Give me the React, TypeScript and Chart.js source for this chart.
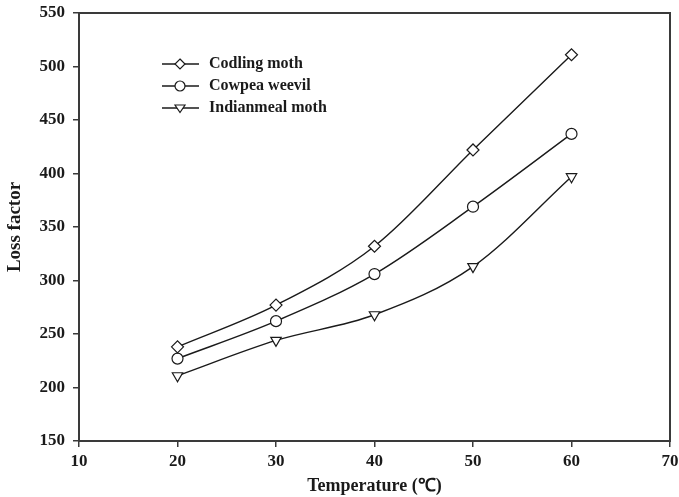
import React, { useEffect, useRef } from "react";
import { Chart, registerables } from "chart.js";

Chart.register(...registerables);

const temperatures = [20, 30, 40, 50, 60];
const codlingMoth = [238, 277, 332, 422, 511];
const cowpeaWeevil = [227, 262, 306, 369, 437];
const indianmealMoth = [211, 244, 268, 313, 397];
const seriesLabels = ["Codling moth", "Cowpea weevil", "Indianmeal moth"];
const xTitle = "Temperature (\u2103)";
const yTitle = "Loss factor";

const INK = "#1a1a1a";
const AXIS = "#3a3a3a";
const FONT = "'Liberation Serif', 'Times New Roman', serif";

function drawMarker(ctx: CanvasRenderingContext2D, style: string, x: number, y: number, r: number) {
  ctx.beginPath();
  if (style === "rectRot") {
    ctx.moveTo(x, y - r);
    ctx.lineTo(x + r, y);
    ctx.lineTo(x, y + r);
    ctx.lineTo(x - r, y);
    ctx.closePath();
  } else if (style === "circle") {
    ctx.arc(x, y, r, 0, Math.PI * 2);
  } else {
    ctx.moveTo(x - r, y - r * 0.6);
    ctx.lineTo(x + r, y - r * 0.6);
    ctx.lineTo(x, y + r * 0.9);
    ctx.closePath();
  }
  ctx.fillStyle = "#fff";
  ctx.fill();
  ctx.strokeStyle = INK;
  ctx.lineWidth = 1.2;
  ctx.stroke();
}

const framePlugin = {
  id: "frame",
  afterDraw(chart: any) {
    const { ctx, chartArea } = chart;
    ctx.save();
    ctx.strokeStyle = AXIS;
    ctx.lineWidth = 2;
    ctx.strokeRect(chartArea.left, chartArea.top, chartArea.right - chartArea.left, chartArea.bottom - chartArea.top);
    ctx.restore();
  },
};

const legendPlugin = {
  id: "customLegend",
  afterDraw(chart: any) {
    const { ctx } = chart;
    const styles = ["rectRot", "circle", "triangleDown"];
    ctx.save();
    chart.data.datasets.forEach((ds: any, i: number) => {
      const y = 64 + i * 22;
      ctx.strokeStyle = INK;
      ctx.lineWidth = 1.6;
      ctx.beginPath();
      ctx.moveTo(162, y);
      ctx.lineTo(199, y);
      ctx.stroke();
      drawMarker(ctx, styles[i], 180, y, 5);
      ctx.fillStyle = INK;
      ctx.font = `bold 16px ${FONT}`;
      ctx.textBaseline = "middle";
      ctx.textAlign = "left";
      ctx.fillText(ds.label, 209, y);
    });
    ctx.restore();
  },
};

export default function App() {
  const ref = useRef<HTMLCanvasElement | null>(null);
  useEffect(() => {
    if (!ref.current) return;
    const mk = (label: string, vals: number[], style: string, rot: number, r: number) => ({
      label,
      data: temperatures.map((t, i) => ({ x: t, y: vals[i] })),
      borderColor: INK,
      borderWidth: 1.4,
      backgroundColor: "#fff",
      pointBackgroundColor: "#fff",
      pointBorderColor: INK,
      pointBorderWidth: 1.2,
      pointStyle: style,
      pointRotation: rot,
      pointRadius: r,
      cubicInterpolationMode: "monotone",
      fill: false,
    });
    const chart = new Chart(ref.current, {
      type: "line",
      data: {
        datasets: [
          mk(seriesLabels[0], codlingMoth, "rectRot", 0, 6),
          mk(seriesLabels[1], cowpeaWeevil, "circle", 0, 5.5),
          mk(seriesLabels[2], indianmealMoth, "triangle", 180, 6),
        ] as any,
      },
      options: {
        animation: false,
        responsive: false,
        layout: { padding: { top: 13, right: 9, left: 0, bottom: 0 } },
        plugins: { legend: { display: false }, tooltip: { enabled: false } },
        scales: {
          x: {
            type: "linear",
            min: 10,
            max: 70,
            ticks: { stepSize: 10, color: INK, font: { family: FONT, size: 17, weight: "bold" }, padding: 4 },
            grid: { drawOnChartArea: false, drawTicks: true, tickLength: 6, color: AXIS, lineWidth: 1.5 },
            border: { display: true, color: AXIS, width: 2 },
            title: { display: true, text: xTitle, color: INK, font: { family: FONT, size: 18, weight: "bold" }, padding: { top: 0, bottom: 0 } },
            afterFit: (s: any) => { s.height = 56; s.paddingLeft = 0; s.paddingRight = 0; },
          },
          y: {
            type: "linear",
            min: 150,
            max: 550,
            ticks: { stepSize: 50, color: INK, font: { family: FONT, size: 17, weight: "bold" }, padding: 8 },
            grid: { drawOnChartArea: false, drawTicks: true, tickLength: 6, color: AXIS, lineWidth: 1.5 },
            border: { display: true, color: AXIS, width: 2 },
            title: { display: true, text: yTitle, color: INK, font: { family: FONT, size: 19, weight: "bold" }, padding: 4 },
            afterFit: (s: any) => { s.width = 79; s.paddingTop = 0; s.paddingBottom = 0; },
          },
        },
      } as any,
      plugins: [framePlugin, legendPlugin],
    });
    return () => chart.destroy();
  }, []);
  return (
    <div style={{ position: "fixed", left: 0, top: 0, width: 679, height: 497, background: "#fff" }}>
      <canvas ref={ref} width={679} height={497} />
    </div>
  );
}
